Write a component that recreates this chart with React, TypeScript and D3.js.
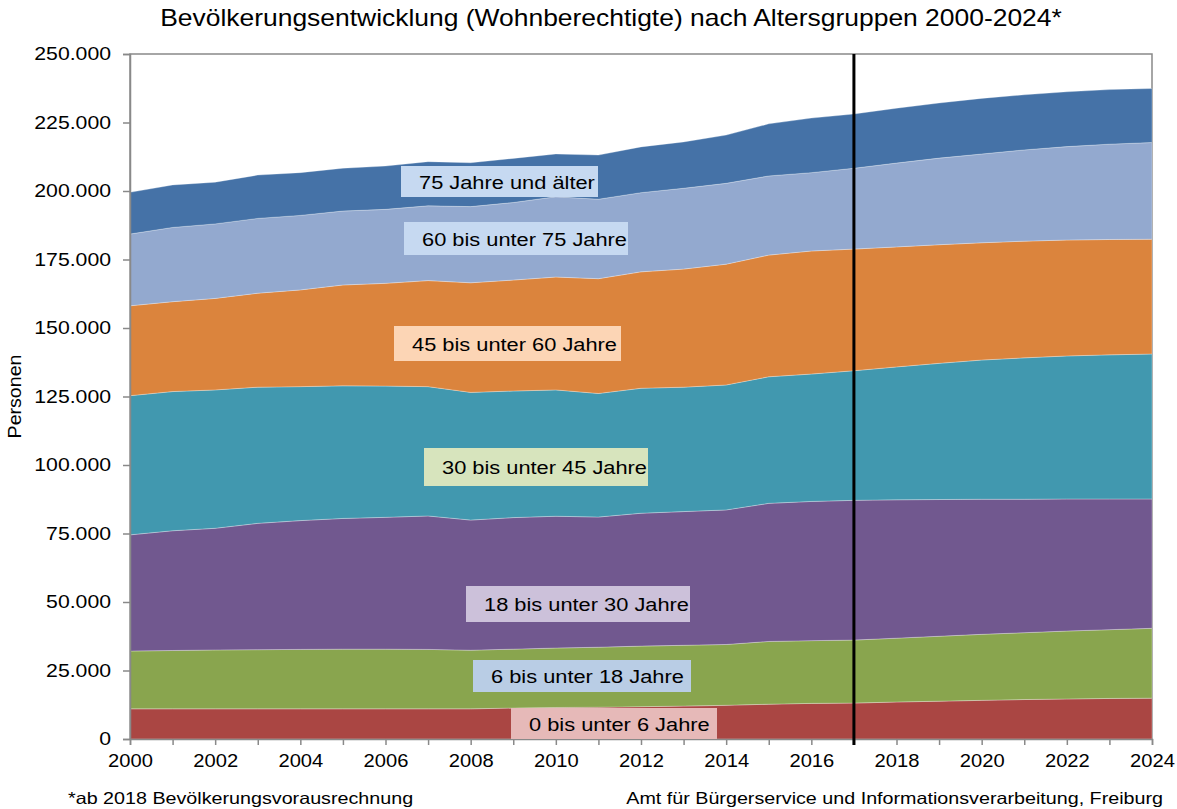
import React, { useEffect, useRef } from 'react';
import * as d3 from 'd3';

const W = 1177;
const H = 809;
const M = { left: 130, right: 24, top: 54, bottom: 70 };
const SX = 1.18; // the original's text is a little wider than Arial

const years = d3.range(2000, 2025);

// cumulative tops (thousands), converted to layer values below
const top0_6 = [11.0, 11.0, 11.0, 11.0, 11.0, 11.0, 11.0, 11.0, 11.0, 11.3, 11.5, 11.6, 11.8, 12.0, 12.3, 12.7, 13.0, 13.1, 13.5, 13.8, 14.1, 14.4, 14.6, 14.8, 14.9];
const top6_18 = [32.1, 32.3, 32.5, 32.6, 32.7, 32.8, 32.8, 32.7, 32.4, 32.8, 33.2, 33.5, 33.9, 34.2, 34.5, 35.6, 35.9, 36.1, 36.8, 37.5, 38.2, 38.8, 39.4, 39.9, 40.4];
const top18_30 = [74.5, 76.0, 76.9, 78.7, 79.7, 80.5, 80.9, 81.4, 79.9, 80.8, 81.3, 81.0, 82.4, 83.0, 83.6, 86.0, 86.7, 87.1, 87.3, 87.4, 87.5, 87.5, 87.6, 87.6, 87.6];
const top30_45 = [125.3, 126.8, 127.4, 128.4, 128.6, 128.9, 128.8, 128.6, 126.5, 127.0, 127.4, 126.1, 128.0, 128.4, 129.2, 132.2, 133.2, 134.4, 135.8, 137.1, 138.3, 139.1, 139.8, 140.2, 140.5];
const top45_60 = [158.1, 159.6, 160.8, 162.7, 163.9, 165.7, 166.3, 167.3, 166.5, 167.5, 168.6, 168.0, 170.5, 171.5, 173.3, 176.6, 178.1, 178.8, 179.6, 180.4, 181.1, 181.7, 182.1, 182.3, 182.4];
const top60_75 = [184.3, 186.7, 188.0, 190.0, 191.1, 192.7, 193.3, 194.6, 194.3, 195.8, 197.9, 197.0, 199.4, 201.0, 202.8, 205.5, 206.7, 208.3, 210.2, 212.0, 213.5, 215.0, 216.2, 217.1, 217.7];
const top75 = [199.5, 202.2, 203.2, 205.8, 206.7, 208.3, 209.1, 210.7, 210.3, 211.9, 213.5, 213.1, 216.1, 217.9, 220.4, 224.5, 226.6, 228.1, 230.2, 232.1, 233.8, 235.1, 236.2, 237.0, 237.4];

const groups = [
  '0 bis unter 6 Jahre',
  '6 bis unter 18 Jahre',
  '18 bis unter 30 Jahre',
  '30 bis unter 45 Jahre',
  '45 bis unter 60 Jahre',
  '60 bis unter 75 Jahre',
  '75 Jahre und älter',
];
const tops = [top0_6, top6_18, top18_30, top30_45, top45_60, top60_75, top75];
const colors = ['#aa4643', '#89a54e', '#71588f', '#4198af', '#db843d', '#93a9cf', '#4572a7'];
const labelBg = ['#e6b9b8', '#b9cde5', '#ccc1da', '#d7e4bd', '#fcd5b5', '#c6d9f1', '#c6d9f1'];
// label boxes: [x, y, w, h]
const labelBox = [
  [511, 708, 206, 31],
  [473, 660, 218, 32],
  [466, 586, 224, 36],
  [424, 448, 224, 38],
  [394, 326, 227, 35],
  [404, 222, 224, 33],
  [401, 166, 197, 31],
];

const yTicks = d3.range(0, 250001, 25000);
const xTicks = d3.range(2000, 2025, 2);
const forecastYear = 2017;

const fmt = (v: number) => (v === 0 ? '0' : d3.format(',')(v).replace(/,/g, '.'));
const font = 'Liberation Sans, Arial, sans-serif';

function addText(g: any, x: number, y: number, txt: string, size: number, anchor = 'start', sx = SX) {
  return g
    .append('text')
    .attr('transform', `translate(${x},${y}) scale(${sx},1)`)
    .attr('text-anchor', anchor)
    .attr('font-family', font)
    .attr('font-size', size)
    .attr('fill', '#000')
    .text(txt);
}

export default function App() {
  const ref = useRef<SVGSVGElement>(null);

  useEffect(() => {
    const svg = d3.select(ref.current);
    svg.selectAll('*').remove();

    const rows = years.map((yr, i) => {
      const r: any = { year: yr };
      groups.forEach((g, k) => {
        const below = k === 0 ? 0 : tops[k - 1][i];
        r[g] = (tops[k][i] - below) * 1000;
      });
      return r;
    });
    const series = d3.stack().keys(groups)(rows);

    const x = d3.scaleLinear().domain([2000, 2024]).range([M.left, W - M.right - 1]);
    const y = d3.scaleLinear().domain([0, 250000]).range([H - M.bottom, M.top]);

    const area = d3
      .area<any>()
      .x((d) => x(d.data.year))
      .y0((d) => y(d[0]))
      .y1((d) => y(d[1]));

    // frame
    svg
      .append('rect')
      .attr('x', M.left)
      .attr('y', M.top)
      .attr('width', x(2024) - M.left)
      .attr('height', y(0) - M.top)
      .attr('fill', 'white')
      .attr('stroke', '#898989')
      .attr('stroke-width', 1.5);

    svg
      .append('g')
      .selectAll('path')
      .data(series)
      .join('path')
      .attr('d', area)
      .attr('fill', (_, i) => colors[i])
      .attr('stroke', 'rgba(255,255,255,0.35)')
      .attr('stroke-width', 0.8);

    // axes
    const yAxis = svg
      .append('g')
      .attr('transform', `translate(${M.left},0)`)
      .call(d3.axisLeft(y).tickValues(yTicks).tickSize(7).tickFormat((d) => fmt(+d)));
    const xAxis = svg
      .append('g')
      .attr('transform', `translate(0,${y(0)})`)
      .call(d3.axisBottom(x).tickValues(years).tickSize(6).tickFormat((d) => (xTicks.includes(+d) ? String(d) : '')));
    [yAxis, xAxis].forEach((a) => {
      a.selectAll('path,line').attr('stroke', '#898989').attr('stroke-width', 1.5);
      a.selectAll('text').attr('font-family', font).attr('font-size', 18).attr('fill', '#000');
    });
    yAxis.selectAll('text').attr('x', 0).attr('transform', `translate(-19,0) scale(${SX},1)`);
    xAxis.selectAll('text').attr('y', 0).attr('transform', `translate(0,22) scale(1.12,1)`).attr('dy', '0.35em');

    // forecast line
    svg
      .append('line')
      .attr('x1', x(forecastYear))
      .attr('x2', x(forecastYear))
      .attr('y1', M.top)
      .attr('y2', y(0) + 6)
      .attr('stroke', '#000')
      .attr('stroke-width', 3);

    // labels
    const lg = svg.append('g');
    groups.forEach((g, i) => {
      const [bx, by, bw, bh] = labelBox[i];
      lg.append('rect').attr('x', bx).attr('y', by).attr('width', bw).attr('height', bh).attr('fill', labelBg[i]);
      addText(lg, bx + 18, by + bh / 2, g, 18.5).attr('dy', '0.4em');
    });

    addText(svg, 611, 26, 'Bevölkerungsentwicklung  (Wohnberechtigte) nach Altersgruppen  2000-2024*', 23, 'middle', 1.15);

    svg
      .append('text')
      .attr('transform', `translate(21,${(M.top + y(0)) / 2}) rotate(-90) scale(1.12,1)`)
      .attr('text-anchor', 'middle')
      .attr('font-family', font)
      .attr('font-size', 17.5)
      .text('Personen');

    addText(svg, 68, 804, '*ab 2018 Bevölkerungsvorausrechnung', 16.3, 'start', 1.21);
    addText(svg, 1163, 804, 'Amt für Bürgerservice und Informationsverarbeitung, Freiburg', 16.3, 'end', 1.21);
  }, []);

  return (
    <div style={{ position: 'absolute', left: 0, top: 0 }}>
      <svg ref={ref} width={W} height={H} style={{ display: 'block', background: 'white' }} />
    </div>
  );
}
